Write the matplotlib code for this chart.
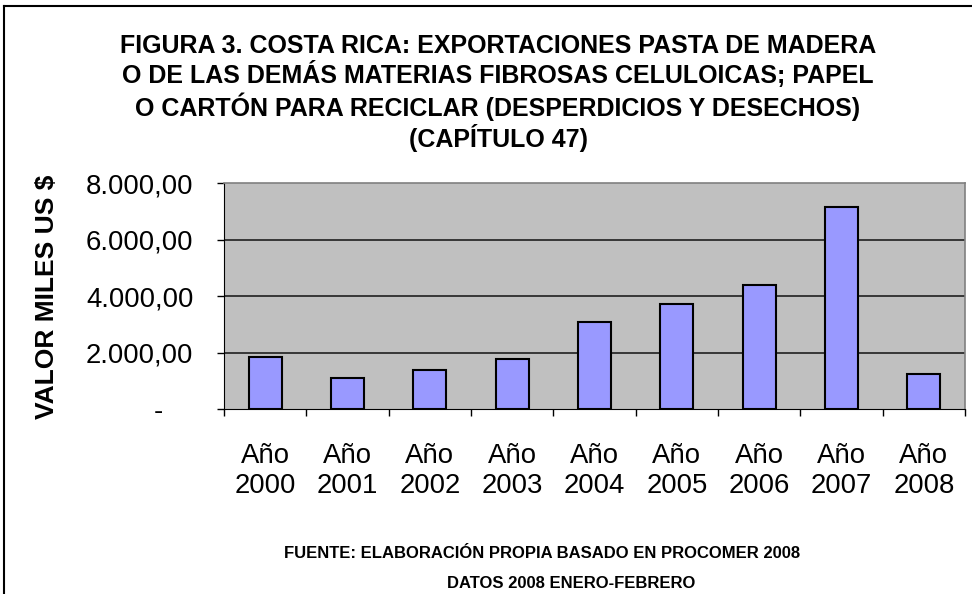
import matplotlib

matplotlib.use("Agg")
import matplotlib.pyplot as plt
from matplotlib.ticker import FixedLocator

years = ["2000", "2001", "2002", "2003", "2004", "2005", "2006", "2007", "2008"]
values = [1862, 1108, 1391, 1792, 3101, 3727, 4411, 7172, 1260]
y_ticks = [0, 2000, 4000, 6000, 8000]
y_tick_labels = ["-    ", "2.000,00", "4.000,00", "6.000,00", "8.000,00"]

title = ("FIGURA 3. COSTA RICA: EXPORTACIONES PASTA DE MADERA\n"
         "O DE LAS DEMÁS MATERIAS FIBROSAS CELULOICAS; PAPEL\n"
         "O CARTÓN PARA RECICLAR (DESPERDICIOS Y DESECHOS)\n"
         "(CAPÍTULO 47)")
source_lines = ["FUENTE: ELABORACIÓN PROPIA BASADO EN PROCOMER 2008",
                "DATOS 2008 ENERO-FEBRERO"]

plt.rcParams["font.family"] = ["Liberation Sans", "DejaVu Sans"]

fig = plt.figure(figsize=(9.72, 5.94), dpi=100)
ax = fig.add_axes([224 / 972, 1 - 409.3 / 594, (965 - 224) / 972, (409.3 - 183.5) / 594])

x = list(range(len(years)))
ax.bar(x, values, width=0.4, color="#9999FF", edgecolor="black", linewidth=1.5, zorder=3)

ax.set_facecolor("#C0C0C0")
ax.set_xlim(-0.5, len(years) - 0.5)
ax.set_ylim(0, 8000)
ax.set_yticks(y_ticks)
ax.set_yticklabels(y_tick_labels, fontsize=19.8)
ax.set_xticks(x)
ax.set_xticklabels([f"Año\n{y}" for y in years], fontsize=19.8, linespacing=1.24)
ax.xaxis.set_minor_locator(FixedLocator([i - 0.5 for i in range(len(years) + 1)]))
ax.tick_params(axis="x", which="major", length=0, pad=24)
ax.tick_params(axis="x", which="minor", length=5, width=1, color="black")
ax.tick_params(axis="y", length=5, width=1, pad=17, color="black")

for val in y_ticks[1:-1]:
    ax.axhline(val, color="#202020", linewidth=1.2, zorder=1)

for side in ["top", "right"]:
    ax.spines[side].set_color("#808080")
    ax.spines[side].set_linewidth(1.2)
ax.spines["left"].set_color("black")
ax.spines["bottom"].set_color("black")

fig.text(498 / 972, 1 - 93 / 594, title, ha="center", va="center",
         fontsize=18, fontweight="bold", linespacing=1.16)
fig.text(47 / 972, 1 - 297 / 594, "VALOR MILES US $", rotation=90, ha="center",
         va="center", fontsize=19, fontweight="bold")
fig.text(542 / 972, 1 - 553 / 594, source_lines[0], ha="center", va="center",
         fontsize=12, fontweight="bold")
fig.text(571 / 972, 1 - 584 / 594, source_lines[1], ha="center", va="center",
         fontsize=12, fontweight="bold")

# chart area frame (only left/top visible in the reference crop)
fig.add_artist(plt.Line2D([4 / 972, 4 / 972], [0, 1 - 6 / 594], color="black",
                          linewidth=1.5, transform=fig.transFigure))
fig.add_artist(plt.Line2D([4 / 972, 1], [1 - 6 / 594, 1 - 6 / 594], color="black",
                          linewidth=1.5, transform=fig.transFigure))

fig.savefig("out.png", dpi=100)
